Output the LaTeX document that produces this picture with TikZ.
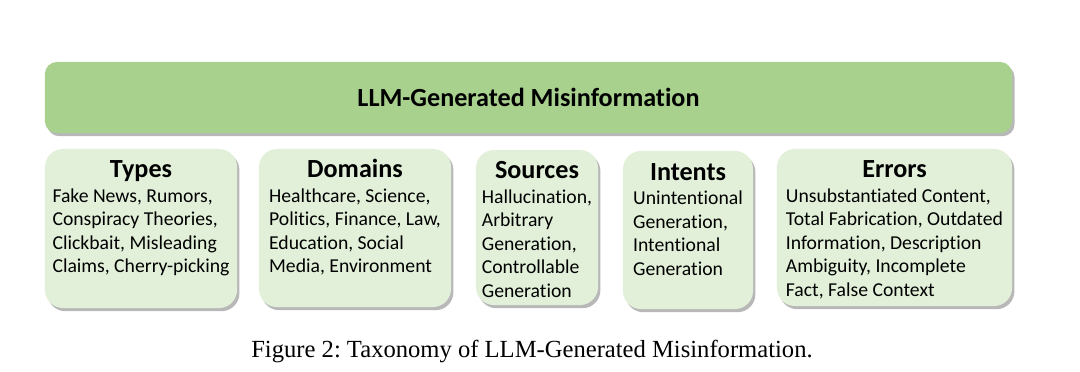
\documentclass[tikz,border=0pt]{standalone}
\usepackage{fontspec}
\setmainfont{Carlito}[Ligatures={NoCommon}]
\newfontfamily\captionfont{Liberation Serif}
\usepackage{tikz}
\usetikzlibrary{positioning, shadows}
\definecolor{barGreen}{HTML}{A9D18E}
\definecolor{catGreen}{HTML}{E2F0D9}
\frenchspacing

\begin{document}
\begin{tikzpicture}[
    x=0.025cm, y=-0.025cm,
    node distance=0.11cm,
    shade/.style={drop shadow={shadow xshift=0.06cm, shadow yshift=-0.08cm, fill=black, opacity=0.28}},
    bar/.style={fill=barGreen, rounded corners=0.3cm, shade, minimum width=24.175cm, minimum height=1.775cm, font=\bfseries\fontsize{18.6}{21}\selectfont},
    cat/.style={fill=catGreen, rounded corners=0.45cm, shade, inner sep=0pt},
    head/.style={font=\bfseries\fontsize{18.6}{21}\selectfont, inner sep=0pt, text height=12pt, text depth=4pt},
    items/.style={font=\fontsize{14}{16.7}\selectfont, align=left, inner sep=0pt}
]
\useasboundingbox (0,0) rectangle (1080,371);

% top bar
\node[bar] (root) at (528.5,97.5) {LLM-Generated Misinformation};

% category boxes
\node[cat, minimum width=4.8cm, minimum height=3.975cm] (types) at (141,228.5) {};
\node[cat, minimum width=4.8cm, minimum height=3.95cm] (domains) at (355,228) {};
\node[cat, minimum width=3.05cm, minimum height=3.875cm] (sources) at (537,227.5) {};
\node[cat, minimum width=3.25cm, minimum height=3.95cm] (intents) at (688,230) {};
\node[cat, minimum width=5.875cm, minimum height=3.925cm] (errors) at (894.5,227.5) {};

% headings
\node[head, below=0.3cm of types.north] (typesHead) {Types};
\node[head, below=0.3cm of domains.north] (domainsHead) {Domains};
\node[head, below=0.3cm of sources.north] (sourcesHead) {Sources};
\node[head, below=0.32cm of intents.north] (intentsHead) {Intents};
\node[head, below=0.3cm of errors.north] (errorsHead) {Errors};

% entries
\node[items, below=of typesHead] (typesList) {Fake News, Rumors,\\Conspiracy Theories,\\Clickbait, Misleading\\Claims, Cherry-picking};
\node[items, below=of domainsHead] (domainsList) {Healthcare, Science,\\Politics, Finance, Law,\\Education, Social\\Media, Environment};
\node[items, below=of sourcesHead] (sourcesList) {Hallucination,\\Arbitrary\\Generation,\\Controllable\\Generation};
\node[items, below=of intentsHead] (intentsList) {Unintentional\\Generation,\\Intentional\\Generation};
\node[items, below=of errorsHead] (errorsList) {Unsubstantiated Content,\\Total Fabrication, Outdated\\Information, Description\\Ambiguity, Incomplete\\Fact, False Context};

% caption
\node[font=\captionfont\fontsize{17.5}{20}\selectfont] (caption) at (532,351) {Figure 2: Taxonomy of LLM-Generated Misinformation.};

\end{tikzpicture}
\end{document}
